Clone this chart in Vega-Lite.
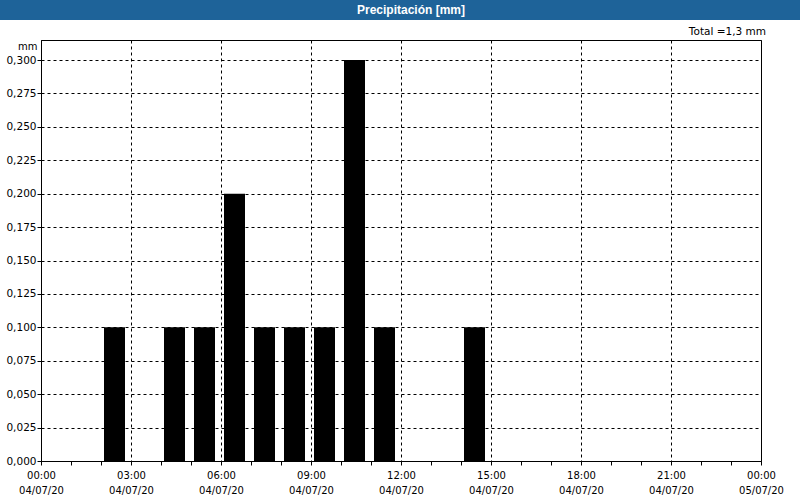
{
  "$schema": "https://vega.github.io/schema/vega-lite/v6.json",
  "padding": 0,
  "background": "white",
  "spacing": 6,
  "config": {
    "font": "DejaVu Sans"
  },
  "vconcat": [
    {
      "width": 800,
      "height": 20,
      "view": {"fill": "#1e6399", "stroke": null},
      "data": {"values": [{"label": "Precipitación [mm]"}]},
      "mark": {"type": "text", "color": "white", "font": "Liberation Sans", "fontWeight": "bold", "fontSize": 12, "dx": 11, "baseline": "middle"},
      "encoding": {"text": {"field": "label", "type": "nominal"}}
    },
    {
      "spacing": 0,
      "hconcat": [
        {
          "width": 1,
          "height": 421,
          "view": {"fill": "white", "stroke": null},
          "data": {"values": []},
          "mark": "point",
          "encoding": {}
        },
        {
          "width": 720,
          "height": 421,
          "view": {"stroke": "black", "strokeWidth": 1, "fill": "white"},
          "title": {"text": "Total =1,3 mm", "anchor": "end", "frame": "group", "fontSize": 10.5, "fontWeight": "normal", "font": "DejaVu Sans", "color": "black", "offset": 3, "dx": 5},
          "data": {"values": [
            {"time": "2020-07-04T02:00:00Z", "mm": 0.1},
            {"time": "2020-07-04T04:00:00Z", "mm": 0.1},
            {"time": "2020-07-04T05:00:00Z", "mm": 0.1},
            {"time": "2020-07-04T06:00:00Z", "mm": 0.2},
            {"time": "2020-07-04T07:00:00Z", "mm": 0.1},
            {"time": "2020-07-04T08:00:00Z", "mm": 0.1},
            {"time": "2020-07-04T09:00:00Z", "mm": 0.1},
            {"time": "2020-07-04T10:00:00Z", "mm": 0.3},
            {"time": "2020-07-04T11:00:00Z", "mm": 0.1},
            {"time": "2020-07-04T14:00:00Z", "mm": 0.1}
          ]},
          "mark": {"type": "bar", "width": 21, "xOffset": 13.5, "color": "black"},
          "encoding": {
            "x": {
              "field": "time", "type": "temporal",
              "scale": {"type": "utc", "padding": 0, "domain": [{"year": 2020, "month": 7, "date": 4, "hours": 0, "utc": true}, {"year": 2020, "month": 7, "date": 5, "hours": 0, "utc": true}], "nice": false},
              "axis": {
                "title": null,
                "values": [
                  {"year": 2020, "month": 7, "date": 4, "hours": 0, "utc": true},
                  {"year": 2020, "month": 7, "date": 4, "hours": 1, "utc": true},
                  {"year": 2020, "month": 7, "date": 4, "hours": 2, "utc": true},
                  {"year": 2020, "month": 7, "date": 4, "hours": 3, "utc": true},
                  {"year": 2020, "month": 7, "date": 4, "hours": 4, "utc": true},
                  {"year": 2020, "month": 7, "date": 4, "hours": 5, "utc": true},
                  {"year": 2020, "month": 7, "date": 4, "hours": 6, "utc": true},
                  {"year": 2020, "month": 7, "date": 4, "hours": 7, "utc": true},
                  {"year": 2020, "month": 7, "date": 4, "hours": 8, "utc": true},
                  {"year": 2020, "month": 7, "date": 4, "hours": 9, "utc": true},
                  {"year": 2020, "month": 7, "date": 4, "hours": 10, "utc": true},
                  {"year": 2020, "month": 7, "date": 4, "hours": 11, "utc": true},
                  {"year": 2020, "month": 7, "date": 4, "hours": 12, "utc": true},
                  {"year": 2020, "month": 7, "date": 4, "hours": 13, "utc": true},
                  {"year": 2020, "month": 7, "date": 4, "hours": 14, "utc": true},
                  {"year": 2020, "month": 7, "date": 4, "hours": 15, "utc": true},
                  {"year": 2020, "month": 7, "date": 4, "hours": 16, "utc": true},
                  {"year": 2020, "month": 7, "date": 4, "hours": 17, "utc": true},
                  {"year": 2020, "month": 7, "date": 4, "hours": 18, "utc": true},
                  {"year": 2020, "month": 7, "date": 4, "hours": 19, "utc": true},
                  {"year": 2020, "month": 7, "date": 4, "hours": 20, "utc": true},
                  {"year": 2020, "month": 7, "date": 4, "hours": 21, "utc": true},
                  {"year": 2020, "month": 7, "date": 4, "hours": 22, "utc": true},
                  {"year": 2020, "month": 7, "date": 4, "hours": 23, "utc": true},
                  {"year": 2020, "month": 7, "date": 5, "hours": 0, "utc": true}
                ],
                "labelExpr": "utchours(datum.value) % 3 == 0 ? [utcFormat(datum.value, '%H:%M'), utcFormat(datum.value, '%d/%m/%y')] : ''",
                "labelFont": "DejaVu Sans",
                "labelFontSize": 10,
                "labelColor": "black",
                "labelLineHeight": 15,
                "labelPadding": 5,
                "labelOverlap": false,
                "labelFlush": false,
                "labelBound": false,
                "tickSize": 4,
                "tickColor": "black",
                "domainColor": "black",
                "grid": true,
                "gridColor": "black",
                "gridDash": [3, 3],
                "gridOpacity": {"condition": {"test": "utchours(datum.value) % 3 == 0", "value": 1}, "value": 0}
              }
            },
            "y": {
              "field": "mm", "type": "quantitative",
              "scale": {"domain": [0, 0.315], "nice": false, "zero": true},
              "axis": {
                "title": "mm",
                "titleAngle": 0,
                "titleAlign": "right",
                "titleBaseline": "middle",
                "titleX": -4,
                "titleY": 6,
                "titleFont": "DejaVu Sans",
                "titleFontSize": 10,
                "titleFontWeight": "normal",
                "titleColor": "black",
                "minExtent": 39,
                "maxExtent": 39,
                "values": [0, 0.025, 0.05, 0.075, 0.1, 0.125, 0.15, 0.175, 0.2, 0.225, 0.25, 0.275, 0.3],
                "labelExpr": "replace(format(datum.value, '.3f'), '.', ',')",
                "labelFont": "DejaVu Sans",
                "labelFontSize": 10.5,
                "labelColor": "black",
                "labelPadding": 1,
                "labelOverlap": false,
                "tickSize": 4,
                "tickColor": "black",
                "domainColor": "black",
                "grid": true,
                "gridColor": "black",
                "gridDash": [3, 3]
              }
            }
          }
        }
      ]
    }
  ]
}
